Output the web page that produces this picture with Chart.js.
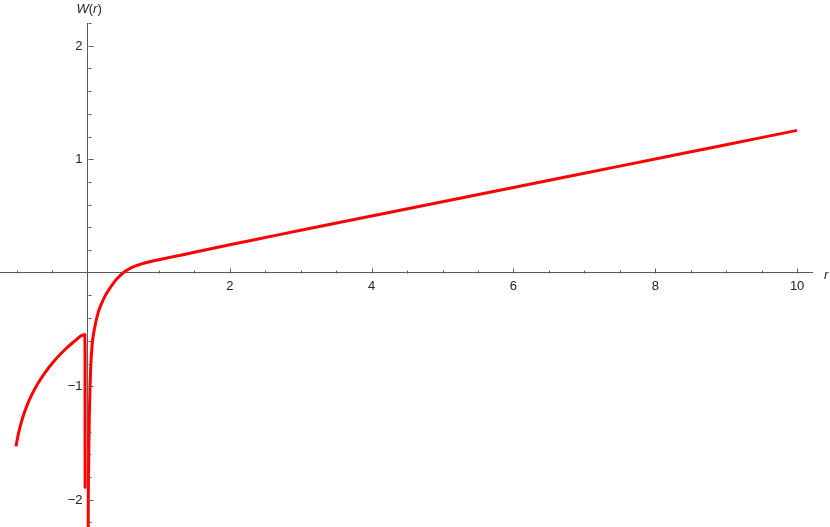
<!DOCTYPE html>
<html>
<head>
<meta charset="utf-8">
<title>W(r)</title>
<script src="https://cdn.jsdelivr.net/npm/chart.js@4/dist/chart.umd.min.js"></script>
<style>
  html, body { margin: 0; padding: 0; background: #fff; }
  #wrap { width: 830px; height: 527px; position: relative; }
</style>
</head>
<body>
<div id="wrap"><canvas id="grafica"></canvas></div>
<script>
// --- DATA ---
// left branch, r < 0
const leftR = [-1.015, -0.98, -0.94, -0.9, -0.85, -0.8, -0.7, -0.6, -0.5, -0.4, -0.3, -0.2, -0.1, -0.06];
const leftW = [-1.53, -1.418, -1.318, -1.238, -1.155, -1.085, -0.97, -0.875, -0.795, -0.725, -0.663, -0.608, -0.558, -0.545];

// sharp drop just left of the origin
const dropR = [-0.06, -0.05, -0.044, -0.041, -0.04];
const dropW = [-0.545, -0.544, -0.56, -0.63, -1.89];

// right branch, r > 0
const rightR = [0.002, 0.005, 0.009, 0.014, 0.02, 0.03, 0.04, 0.06, 0.09, 0.145, 0.2, 0.25, 0.3, 0.35, 0.4, 0.45, 0.5,
                0.6, 0.7, 0.8, 0.9, 1.0, 1.25, 1.5, 2, 2.5, 3, 4, 5, 6, 7, 8, 9, 10];
const rightW = [-2.7, -2.0, -1.75, -1.5, -1.25, -1.0, -0.82, -0.63, -0.5, -0.35, -0.26, -0.195, -0.145, -0.1, -0.06, -0.028, 0.0,
                0.04, 0.066, 0.086, 0.101, 0.114, 0.147, 0.18, 0.246, 0.31, 0.374, 0.5, 0.625, 0.75, 0.876, 1.002, 1.128, 1.254];

// axis ranges, tick steps and labelled ticks
const rangoX = [-1.24, 10.21];
const rangoY = [-2.24, 2.2];
const pasoX = 0.5;
const pasoY = 0.2;
const etiquetasX = [2, 4, 6, 8, 10];
const etiquetasY = [-2, -1, 1, 2];

const puntos = (xs, ys) => xs.map((v, i) => ({ x: v, y: ys[i] }));

const COLOR_EJE = '#5a5a5a';
const COLOR_TEXTO = '#222';
const FUENTE = '"Liberation Sans", Arial, sans-serif';

function esMarca(lista, v) {
    return lista.some(m => Math.abs(m - v) < 1e-6);
}

// tick values on round multiples of the step inside the range
function marcasEnRango(rango, paso) {
    const lista = [];
    const k0 = Math.ceil(rango[0] / paso - 1e-9);
    const k1 = Math.floor(rango[1] / paso + 1e-9);
    for (let k = k0; k <= k1; k++) lista.push({ value: Math.round(k * paso * 100) / 100 });
    return lista;
}

// scale with no room taken in the layout (axes cross at the origin)
function sinEspacio(s) {
    if (s.isHorizontal()) s.height = 0; else s.width = 0;
    s.paddingTop = s.paddingBottom = s.paddingLeft = s.paddingRight = 0;
}

// small inward ticks (up / right), y tick labels and the axis labels
const marcasEjes = {
    id: 'marcasEjes',
    afterDraw(chart) {
        const { ctx, scales: { x, y } } = chart;
        const x0 = Math.round(x.getPixelForValue(0)) + 0.5;
        const y0 = Math.round(y.getPixelForValue(0)) + 0.5;
        ctx.save();
        ctx.strokeStyle = COLOR_EJE;
        ctx.lineWidth = 1;
        ctx.beginPath();
        x.ticks.forEach(t => {
            if (Math.abs(t.value) < 1e-9) return;
            const px = Math.round(x.getPixelForValue(t.value)) + 0.5;
            const largo = esMarca(etiquetasX, t.value) ? 5 : 3;
            ctx.moveTo(px, y0);
            ctx.lineTo(px, y0 - largo);
        });
        y.ticks.forEach(t => {
            if (Math.abs(t.value) < 1e-9) return;
            const py = Math.round(y.getPixelForValue(t.value)) + 0.5;
            const largo = esMarca(etiquetasY, t.value) ? 5 : 3;
            ctx.moveTo(x0, py);
            ctx.lineTo(x0 + largo, py);
        });
        ctx.stroke();

        ctx.fillStyle = COLOR_TEXTO;
        const italica = 'italic 13px ' + FUENTE;
        const normal = '13px ' + FUENTE;

        // y tick labels, left of the axis
        ctx.font = normal;
        ctx.textAlign = 'right';
        ctx.textBaseline = 'middle';
        etiquetasY.forEach(v => {
            const txt = String(v).replace('-', '\u2212');
            ctx.fillText(txt, x0 - 6, y.getPixelForValue(v) + 0.5);
        });

        ctx.textAlign = 'left';
        ctx.textBaseline = 'alphabetic';
        let tx = x0 - 12;
        const ty = chart.chartArea.top - 10;
        const partes = [['W', italica], ['(', normal], ['r', italica], [')', normal]];
        partes.forEach(([txt, f]) => {
            ctx.font = f;
            ctx.fillText(txt, tx, ty);
            tx += ctx.measureText(txt).width;
        });
        ctx.font = italica;
        ctx.fillText('r', chart.chartArea.right + 12, y0 + 5);
        ctx.restore();
    }
};

new Chart(document.getElementById('grafica'), {
    type: 'scatter',
    data: {
        datasets: [
            { data: puntos(leftR, leftW), cubicInterpolationMode: 'monotone' },
            { data: puntos(dropR, dropW), tension: 0 },
            { data: puntos(rightR, rightW), cubicInterpolationMode: 'monotone' }
        ]
    },
    options: {
        responsive: true,
        maintainAspectRatio: false,
        animation: false,
        layout: { padding: { left: 0, right: 18, top: 23, bottom: 0 } },
        elements: {
            line: { borderColor: '#ff0000', borderWidth: 3, borderCapStyle: 'butt', borderJoinStyle: 'round', fill: false },
            point: { radius: 0, hoverRadius: 0 }
        },
        datasets: { scatter: { showLine: true } },
        plugins: { legend: { display: false }, tooltip: { enabled: false } },
        scales: {
            x: {
                type: 'linear',
                position: { y: 0 },
                min: rangoX[0],
                max: rangoX[1],
                z: 1,
                afterFit: sinEspacio,
                afterBuildTicks: s => { s.ticks = marcasEnRango(rangoX, pasoX); },
                grid: { display: false, drawTicks: false },
                border: { display: true, color: COLOR_EJE, width: 1 },
                ticks: {
                    autoSkip: false,
                    maxRotation: 0,
                    padding: 6,
                    color: COLOR_TEXTO,
                    font: { family: FUENTE, size: 13 },
                    callback: v => esMarca(etiquetasX, v) ? String(v) : ''
                }
            },
            y: {
                type: 'linear',
                position: { x: 0 },
                min: rangoY[0],
                max: rangoY[1],
                z: 1,
                afterFit: sinEspacio,
                afterBuildTicks: s => { s.ticks = marcasEnRango(rangoY, pasoY); },
                grid: { display: false, drawTicks: false },
                border: { display: true, color: COLOR_EJE, width: 1 },
                ticks: { display: false }
            }
        }
    },
    plugins: [marcasEjes]
});
</script>
</body>
</html>
